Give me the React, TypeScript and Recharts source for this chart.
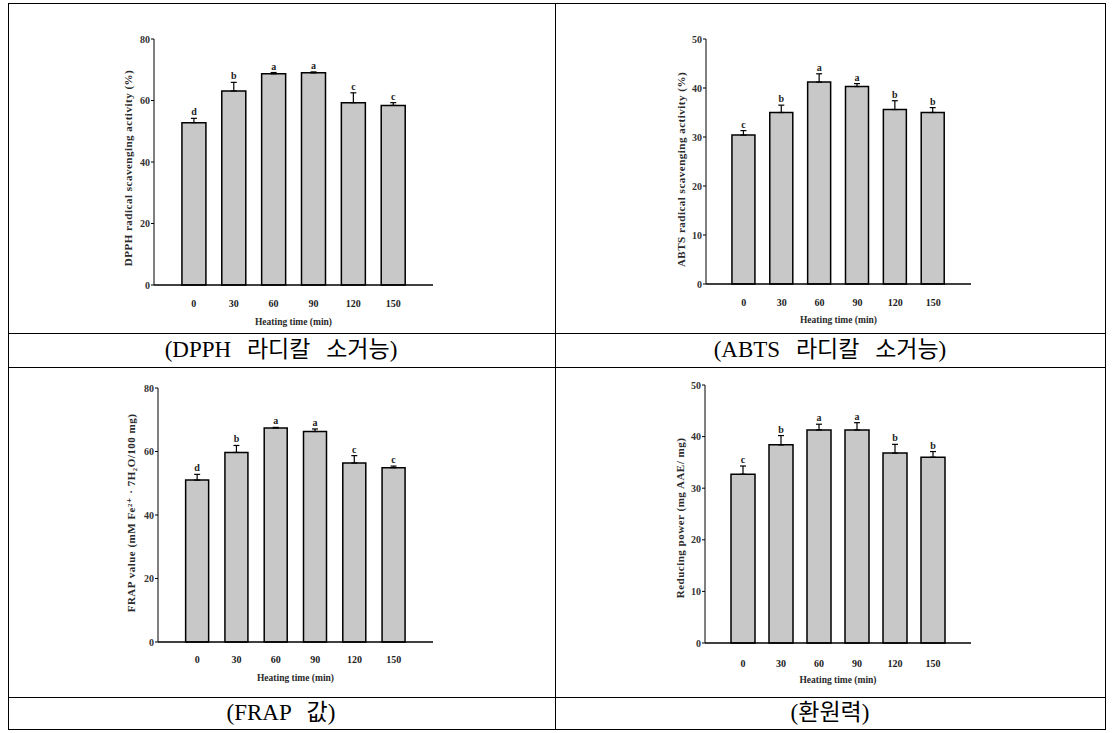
import React from 'react';
import {BarChart, Bar, XAxis, YAxis, ErrorBar, LabelList} from 'recharts';

// heating time categories (min)
const times = ['0', '30', '60', '90', '120', '150'];

const dpphMean = [52.8, 63.1, 68.7, 69.0, 59.3, 58.4];
const dpphErr = [1.4, 2.8, 0.4, 0.3, 3.2, 0.9];
const dpphLetters = ['d', 'b', 'a', 'a', 'c', 'c'];

const abtsMean = [30.4, 35.0, 41.2, 40.3, 35.6, 35.0];
const abtsErr = [0.9, 1.5, 1.7, 0.6, 1.8, 1.0];
const abtsLetters = ['c', 'b', 'a', 'a', 'b', 'b'];

const frapMean = [51.0, 59.7, 67.4, 66.3, 56.4, 54.9];
const frapErr = [1.8, 2.2, 0.2, 0.8, 2.3, 0.5];
const frapLetters = ['d', 'b', 'a', 'a', 'c', 'c'];

const reduceMean = [32.7, 38.4, 41.3, 41.3, 36.8, 36.0];
const reduceErr = [1.6, 1.8, 1.1, 1.4, 1.7, 1.1];
const reduceLetters = ['c', 'b', 'a', 'a', 'b', 'b'];

const ticks80 = [0, 20, 40, 60, 80];
const ticks50 = [0, 10, 20, 30, 40, 50];

type Row = {time: string; mean: number; err: number[]; up: number; letter: string};

const buildRows = (mean: number[], err: number[], letters: string[]): Row[] =>
  times.map((t, i) => ({time: t, mean: mean[i], err: [0, err[i]], up: err[i], letter: letters[i]}));

const serif = '"Liberation Serif", "DejaVu Serif", serif';
const capFont = '"Liberation Serif", "Noto Sans CJK KR", serif';

type Rect = {left: number; top: number; right: number; bottom: number};

interface PanelProps {
  rows: Row[];
  yMax: number;
  yTicks: number[];
  yTitle: string;
  plot: Rect;
  barSize: number;
  topStroke: number;
  yTitleDx: number;
  yTitleDy: number;
  xTitleDy: number;
  xTickGap: number;
}

const Panel: React.FC<PanelProps> = ({rows, yMax, yTicks, yTitle, plot, barSize, topStroke, yTitleDx, yTitleDy, xTitleDy, xTickGap}) => {
  const axisW = 60;
  const mTop = 10;
  const mRight = 10;
  const xAxisH = 50;
  const pw = plot.right - plot.left;
  const ph = plot.bottom - plot.top;
  const unit = pw / 7;

  const letter = (p: any) => {
    const {x, y, width, height, value, index} = p;
    const row = rows[index];
    const perUnit = height / row.mean;
    const top = y - row.up * perUnit;
    return (
      <text x={x + width / 2} y={top - 3} textAnchor="middle" fontFamily={serif} fontWeight="bold" fontSize={10} fill="#222">
        {value}
      </text>
    );
  };

  const yLabel = (p: any) => {
    const vb = p.viewBox;
    const cx = vb.x + vb.width - yTitleDx;
    const cy = vb.y + vb.height / 2 + yTitleDy;
    return (
      <text x={cx} y={cy} transform={`rotate(-90 ${cx} ${cy})`} textAnchor="middle" dominantBaseline="central"
        fontFamily={serif} fontWeight="bold" fontSize={11} letterSpacing={0.5} fill="#2a2a2a">
        {yTitle}
      </text>
    );
  };

  const xLabel = (p: any) => {
    const vb = p.viewBox;
    const cx = vb.x + vb.width / 2;
    const cy = vb.y + xTitleDy;
    return (
      <text x={cx} y={cy} textAnchor="middle" dominantBaseline="central"
        fontFamily={serif} fontWeight="bold" fontSize={9.5} fill="#2a2a2a">
        Heating time (min)
      </text>
    );
  };

  return (
    <div style={{position: 'absolute', left: plot.left - axisW, top: plot.top - mTop}}>
      <BarChart
        width={pw + axisW + mRight}
        height={ph + mTop + xAxisH}
        data={rows}
        margin={{top: mTop, right: mRight, left: 0, bottom: 0}}
        barSize={barSize}
      >
        <XAxis
          dataKey="time"
          height={xAxisH}
          padding={{left: unit / 2, right: unit / 2}}
          tickLine={false}
          tickMargin={xTickGap}
          axisLine={{stroke: '#000', strokeWidth: 1.5}}
          tick={{fontFamily: serif, fontWeight: 'bold', fontSize: 10, fill: '#222'}}
          label={xLabel}
        />
        <XAxis xAxisId="top" dataKey="time" orientation="top" height={0} tick={false} tickLine={false}
          axisLine={{stroke: '#000', strokeWidth: topStroke}} />
        <YAxis
          domain={[0, yMax]}
          ticks={yTicks}
          width={axisW}
          tickSize={3}
          tickMargin={1}
          interval={0}
          tickLine={{stroke: '#000'}}
          axisLine={{stroke: '#000', strokeWidth: 1}}
          tick={{fontFamily: serif, fontWeight: 'bold', fontSize: 10, fill: '#333'}}
          label={yLabel}
        />
        <YAxis yAxisId="right" orientation="right" width={0} domain={[0, yMax]} tick={false} tickLine={false}
          axisLine={{stroke: '#000', strokeWidth: 1}} />
        <Bar dataKey="mean" fill="#c8c8c8" stroke="#000" strokeWidth={1.5} isAnimationActive={false}>
          <ErrorBar dataKey="err" direction="y" width={3} stroke="#000" strokeWidth={1.2} isAnimationActive={false} />
          <LabelList dataKey="letter" content={letter} />
        </Bar>
      </BarChart>
    </div>
  );
};

const line = (left: number, top: number, width: number, height: number): React.CSSProperties => ({
  position: 'absolute', left, top, width, height, background: '#000',
});

const caption = (cx: number, cy: number): React.CSSProperties => ({
  position: 'absolute', left: cx - 200, top: cy - 15, width: 400, height: 30, lineHeight: '30px',
  textAlign: 'center', fontFamily: capFont, fontSize: 23, wordSpacing: 10, color: '#000',
});

export default function App() {
  return (
    <div style={{position: 'absolute', left: 0, top: 0, width: 1112, height: 733, background: '#fff', overflow: 'hidden'}}>
      {/* table rules */}
      <div style={line(8, 3, 1098, 1)} />
      <div style={line(8, 333, 1098, 1)} />
      <div style={line(8, 367, 1098, 1)} />
      <div style={line(8, 697, 1098, 1)} />
      <div style={line(8, 729, 1098, 1)} />
      <div style={line(8, 3, 1, 727)} />
      <div style={line(555, 3, 1, 727)} />
      <div style={line(1105, 3, 1, 727)} />

      <Panel rows={buildRows(dpphMean, dpphErr, dpphLetters)} yMax={80} yTicks={ticks80}
        yTitle="DPPH radical scavenging activity (%)" plot={{left: 154, top: 39, right: 433, bottom: 285}}
        barSize={24} topStroke={1} yTitleDx={26} yTitleDy={6} xTitleDy={37} xTickGap={9} />
      <Panel rows={buildRows(abtsMean, abtsErr, abtsLetters)} yMax={50} yTicks={ticks50}
        yTitle="ABTS radical scavenging activity (%)" plot={{left: 706, top: 39, right: 971, bottom: 284}}
        barSize={23} topStroke={1} yTitleDx={25} yTitleDy={8} xTitleDy={36} xTickGap={9} />
      <Panel rows={buildRows(frapMean, frapErr, frapLetters)} yMax={80} yTicks={ticks80}
        yTitle="FRAP value (mM Fe²⁺ · 7H₂O/100 mg)" plot={{left: 158, top: 388, right: 433, bottom: 642}}
        barSize={23} topStroke={2.5} yTitleDx={27} yTitleDy={-2} xTitleDy={36} xTickGap={8} />
      <Panel rows={buildRows(reduceMean, reduceErr, reduceLetters)} yMax={50} yTicks={ticks50}
        yTitle="Reducing power (mg AAE/ mg)" plot={{left: 705, top: 385, right: 971, bottom: 643}}
        barSize={24} topStroke={2} yTitleDx={25} yTitleDy={4} xTitleDy={37} xTickGap={11} />

      <div style={caption(281, 350)}>(DPPH 라디칼 소거능)</div>
      <div style={caption(830, 350)}>(ABTS 라디칼 소거능)</div>
      <div style={caption(281, 713)}>(FRAP 값)</div>
      <div style={caption(830, 713)}>(환원력)</div>
    </div>
  );
}
